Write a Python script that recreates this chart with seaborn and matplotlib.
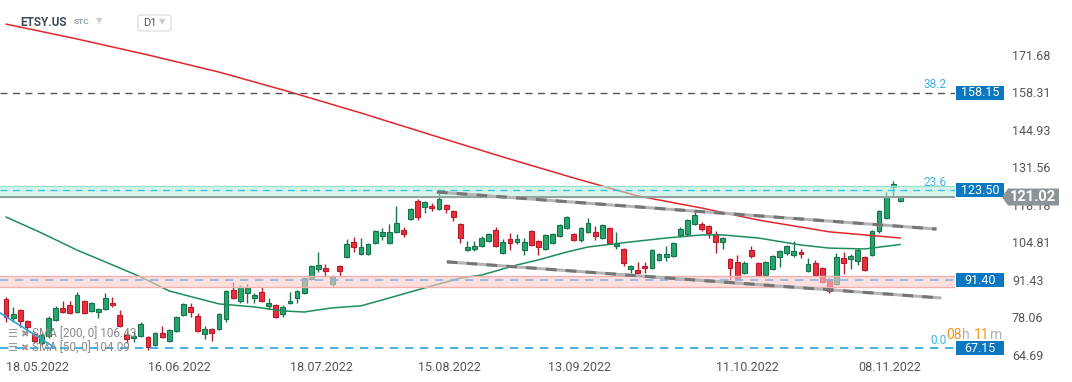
import matplotlib
matplotlib.use('Agg')
import matplotlib.pyplot as plt
from matplotlib.patches import Rectangle, Polygon, FancyBboxPatch
import matplotlib.transforms as mtransforms
import seaborn as sns
import numpy as np
import pandas as pd

sns.set_style('white')
plt.rcParams['font.family'] = ['Roboto', 'DejaVu Sans']

# --- daily candles ETSY.US ---
opens = [84.7, 77.9, 80.7, 76.8, 72.2, 69.0, 71.5, 77.2, 81.5, 82.5,
         80.0, 83.9, 80.4, 80.0, 81.1, 83.2, 79.0, 71.8, 70.8, 71.5,
         71.1, 68.3, 72.5, 69.7, 73.2, 79.0, 81.8, 78.6, 72.2, 74.0,
         74.0, 77.5, 87.9, 83.9, 86.8, 85.0, 87.2, 82.2, 82.5, 79.3,
         83.2, 85.0, 86.8, 91.8, 95.4, 95.7, 90.0, 96.4, 99.6, 105.0,
         100.7, 100.7, 104.6, 107.1, 104.6, 108.5, 109.3, 113.2, 119.6, 117.4,
         117.8, 116.8, 118.2, 116.0, 111.4, 102.1, 102.5, 103.6, 105.3, 109.3,
         101.1, 106.1, 105.0, 102.1, 108.9, 105.3, 102.5, 104.6, 107.1, 110.0,
         107.8, 105.7, 108.5, 108.5, 106.4, 110.0, 103.6, 102.5, 95.4, 95.0,
         96.4, 95.7, 98.6, 99.6, 100.0, 107.5, 107.8, 111.4, 111.4, 110.7,
         107.8, 105.0, 98.9, 97.9, 93.9, 102.1, 97.5, 93.2, 95.4, 99.6,
         101.1, 100.4, 101.4, 94.6, 97.5, 95.7, 91.8, 90.0, 99.3, 98.9,
         98.2, 99.6, 100.4, 108.9, 113.5, 124.6, 119.6]
highs = [85.4, 81.8, 81.1, 77.2, 72.9, 72.5, 78.6, 82.2, 83.9, 83.9,
         87.2, 84.3, 83.6, 81.5, 86.8, 85.4, 80.7, 73.2, 73.2, 76.5,
         71.5, 72.9, 75.0, 74.0, 78.6, 83.2, 83.2, 79.7, 75.0, 74.3,
         79.7, 87.9, 90.7, 89.6, 90.0, 86.8, 88.9, 85.0, 82.9, 82.5,
         87.2, 87.9, 92.5, 96.8, 101.4, 97.1, 93.2, 96.8, 106.1, 106.8,
         106.4, 104.6, 109.2, 110.0, 111.4, 117.7, 110.3, 117.1, 120.3, 119.6,
         118.9, 122.5, 118.5, 116.4, 111.8, 105.3, 105.3, 107.1, 108.2, 110.3,
         106.1, 108.2, 107.8, 106.4, 109.3, 105.7, 107.8, 108.2, 111.4, 114.3,
         108.2, 110.3, 113.5, 110.7, 111.4, 110.3, 108.5, 102.8, 96.8, 97.9,
         97.9, 102.5, 101.1, 103.6, 105.0, 110.3, 113.2, 115.7, 112.1, 111.1,
         108.9, 106.8, 99.3, 100.4, 98.2, 103.6, 97.9, 98.2, 100.4, 102.1,
         103.9, 105.3, 102.5, 99.3, 98.6, 96.1, 92.1, 101.1, 101.4, 100.7,
         102.8, 100.0, 109.2, 116.4, 122.8, 126.7, 121.4]
lows = [76.5, 76.5, 74.7, 72.5, 69.0, 68.3, 70.7, 76.8, 79.6, 79.3,
        79.6, 79.3, 80.0, 77.9, 80.7, 81.8, 74.7, 69.0, 69.3, 71.1,
        66.5, 67.9, 70.7, 69.3, 72.9, 78.6, 78.2, 72.9, 70.4, 69.7,
        73.6, 76.5, 84.7, 83.2, 83.2, 83.2, 83.6, 81.1, 77.9, 78.2,
        82.9, 83.2, 86.4, 91.4, 94.3, 92.9, 89.3, 92.9, 99.3, 101.4,
        100.4, 100.4, 104.3, 105.7, 104.3, 108.2, 106.8, 112.9, 112.8, 115.3,
        116.0, 116.4, 115.3, 112.5, 104.6, 101.8, 101.8, 103.2, 105.0, 103.2,
        100.7, 102.1, 104.3, 100.4, 103.6, 100.4, 102.1, 104.3, 106.8, 109.6,
        105.3, 105.0, 108.2, 105.7, 106.1, 104.3, 102.5, 96.4, 93.9, 93.6,
        93.9, 95.4, 98.2, 98.2, 99.6, 106.8, 107.1, 111.1, 108.9, 106.4,
        101.1, 102.5, 91.4, 91.4, 93.6, 99.3, 92.9, 92.9, 95.0, 96.1,
        100.4, 99.6, 99.3, 94.3, 92.9, 90.4, 86.8, 89.6, 93.6, 95.4,
        96.8, 94.6, 100.0, 108.2, 113.2, 121.0, 119.3]
closes = [78.2, 79.3, 76.8, 74.7, 69.7, 71.8, 77.9, 81.5, 80.0, 79.7,
          86.1, 79.7, 83.2, 81.1, 85.0, 82.5, 75.0, 70.4, 71.5, 75.7,
          67.5, 72.5, 71.1, 73.6, 78.2, 82.9, 80.0, 73.2, 74.0, 72.5,
          79.3, 87.5, 85.0, 88.9, 88.6, 86.1, 83.9, 83.2, 78.2, 81.8,
          83.9, 87.5, 92.1, 96.4, 96.8, 94.6, 92.5, 94.6, 104.3, 103.2,
          103.2, 104.3, 108.9, 108.5, 108.5, 111.8, 107.8, 116.8, 113.9, 119.3,
          117.1, 120.3, 116.8, 113.9, 106.4, 103.2, 103.6, 106.4, 107.8, 103.6,
          105.0, 104.6, 106.1, 105.0, 103.9, 103.2, 107.5, 107.8, 111.1, 113.9,
          105.7, 110.0, 111.8, 107.1, 111.1, 104.6, 104.3, 97.5, 96.4, 93.9,
          95.7, 102.1, 100.7, 100.7, 104.6, 109.6, 112.8, 114.6, 109.6, 108.2,
          105.0, 106.4, 95.7, 91.8, 97.5, 100.0, 93.2, 97.9, 100.0, 101.8,
          103.6, 101.8, 100.7, 97.1, 93.2, 90.7, 87.5, 99.6, 97.5, 100.0,
          102.1, 95.0, 108.9, 116.0, 121.0, 125.6, 121.02]

# moving averages, read at sample candles
sma200_idx = [0, 10, 20, 30, 40, 50, 60, 70, 80, 89, 98, 106, 116, 126]
sma200_val = [182.7, 177.4, 171.7, 165.6, 158.5, 151.0, 143.1, 135.3, 127.8,
              121.4, 117.1, 112.8, 108.6, 106.4]
sma50_idx = [0, 5, 10, 15, 19, 23, 30, 35, 39, 42, 46, 50, 53, 58, 61, 64, 67,
             72, 75, 79, 82, 88, 93, 98, 101, 106, 112, 116, 121, 126]
sma50_val = [113.9, 108.2, 102.1, 96.8, 92.5, 87.5, 82.9, 81.8, 80.4, 80.0,
             81.5, 82.2, 84.3, 87.9, 90.0, 92.1, 93.2, 96.8, 98.6, 101.4, 103.2,
             105.0, 106.4, 107.5, 107.5, 106.4, 103.9, 102.8, 102.5, 104.1]

# drawn objects
chan_upper = ([60.7, 131.1], [122.8, 109.6])
chan_lower = ([62.1, 131.8], [97.9, 85.0])
fib_diag = ([-0.85, 7.0], [79.7, 67.15])

fib_levels = [158.15, 123.50, 67.15]
fib_names = ['38.2', '23.6', '0.0']
zone_res = (121.2, 125.0)
zone_sup = (89.1, 92.7)
sup_level = 91.40
last_price = 121.02

price_ticks = [171.68, 158.31, 144.93, 131.56, 118.18, 104.81, 91.43, 78.06, 64.69]
date_labels = ['18.05.2022', '16.06.2022', '18.07.2022', '15.08.2022',
               '13.09.2022', '11.10.2022', '08.11.2022']
date_pos = [0, 20, 40, 58, 76.3, 100, 120]

# --- figure ---
W, H = 1072, 382
fig = plt.figure(figsize=(W / 100, H / 100), dpi=100)
ax = fig.add_axes([0, 1 - 358 / H, 955 / W, 358 / H])
ax.set_xlim(-0.85, 133.7)
ax.set_ylim(63.6, 191.3)
for s in ax.spines.values():
    s.set_visible(False)

df = pd.DataFrame({'o': opens, 'h': highs, 'l': lows, 'c': closes})
df['i'] = np.arange(len(df))
up = df['c'] >= df['o']
fc = np.where(up, '#27a56e', '#ec2d3d')
ec = np.where(up, '#17744a', '#b41e2b')
ax.vlines(df['i'], df['l'], df['h'], colors=ec, linewidth=1, zorder=2)
body = (df['c'] - df['o']).abs().clip(lower=0.4)
ax.bar(df['i'], body, bottom=df[['o', 'c']].min(axis=1), width=0.68,
       color=fc, edgecolor=ec, linewidth=0.8, zorder=2.1)

sns.lineplot(x=sma200_idx, y=sma200_val, color='#e3262c', linewidth=1.1, ax=ax, zorder=3)
sns.lineplot(x=sma50_idx, y=sma50_val, color='#1f8c5c', linewidth=1.1, ax=ax, zorder=3)

# zones
ax.axhspan(*zone_res, color='#b4eddc', alpha=0.55, lw=0, zorder=4)
ax.axhspan(*zone_sup, color='#fbcaca', alpha=0.6, lw=0, zorder=4)
for v in zone_res:
    ax.axhline(v, color='#9ee0cc', lw=1, zorder=4.1)
for v in zone_sup:
    ax.axhline(v, color='#f3aeae', lw=1, zorder=4.1)

ax.axhline(fib_levels[0], color='#555555', lw=1, dashes=(5, 4), zorder=5)
ax.axhline(fib_levels[1], color='#3cc0e8', lw=1, dashes=(5, 4), zorder=5)
ax.axhline(fib_levels[2], color='#29a3e0', lw=1.2, dashes=(5, 4), zorder=5)
ax.axhline(sup_level, color='#8ab4dc', lw=1.2, dashes=(5, 4), zorder=5)
ax.axhline(last_price, color='#8c9498', lw=1.2, zorder=5)
ax.plot(*fib_diag, color='#29a8e0', lw=1.2, zorder=5)

for xs, ys in (chan_upper, chan_lower):
    ax.plot(xs, ys, color='#b5b5b5', lw=2.2, zorder=6, solid_capstyle='butt')
    ax.plot(xs, ys, color='#6e6e6e', lw=2.2, dashes=(3.5, 3), alpha=0.9,
            solid_capstyle='butt', zorder=6.1)

# axes ticks
ax.yaxis.tick_right()
ax.set_yticks(price_ticks)
ax.set_yticklabels([f'{v:.2f}' for v in price_ticks])
ax.tick_params(axis='y', length=0, pad=41, labelsize=9, labelcolor='#555555')
ax.set_xticks(date_pos)
ax.set_xticklabels(date_labels, ha='left')
ax.tick_params(axis='x', length=0, pad=2, labelsize=9, labelcolor='#555555')

# level labels on price scale
bl = mtransforms.blended_transform_factory(ax.transAxes, ax.transData)
px = 1 / 955
py = (191.3 - 63.6) / 358
for v in [fib_levels[0], fib_levels[1], sup_level, fib_levels[2]]:
    ax.add_patch(Rectangle((1 + 1 * px, v - 7 * py), 48 * px, 14 * py, transform=bl,
                           fc='#0a78c1', ec='none', clip_on=False, zorder=10))
    ax.text(1 + 25 * px, v, f'{v:.2f}', transform=bl, color='white', fontsize=9,
            ha='center', va='center', clip_on=False, zorder=11)
for v, n in zip(fib_levels, fib_names):
    ax.text(947 * px, v + 8 * py, n, transform=bl, color='#3cb3e8', fontsize=8.5,
            ha='right', va='center', zorder=11)

arrow = [(1002, 0), (1008, -8.5), (1059, -8.5), (1059, 8.5), (1008, 8.5)]
ax.add_patch(Polygon([(x * px, last_price + dy * py) for x, dy in arrow], closed=True,
                     transform=bl, fc='#8c9498', ec='none', clip_on=False, zorder=12))
ax.text(1033 * px, last_price, f'{last_price:.2f}', transform=bl, color='white',
        fontsize=10.5, fontweight='bold', ha='center', va='center', clip_on=False, zorder=13)

# header / overlays
def ftext(x, y, s, **kw):
    fig.text(x / W, 1 - y / H, s, va='center', **kw)

ftext(20, 22, 'ETSY.US', fontsize=8.5, fontweight='bold', color='#3f4b56')
ftext(74, 22, 'STC', fontsize=6, fontweight='bold', color='#8fa0ad')
ftext(96, 21, '▼', fontsize=6, color='#c5ccd2')
fig.patches.append(FancyBboxPatch((138 / W, 1 - 31 / H), 33 / W, 16 / H,
                                  boxstyle='round,pad=0,rounding_size=0.004',
                                  transform=fig.transFigure, fc='white', ec='#dde2e6', lw=1))
ftext(143, 23, 'D1', fontsize=8, color='#555555')
ftext(159, 22, '▼', fontsize=6, color='#c5ccd2')

ftext(7, 334, '☰', fontsize=8, color='#9a9a9a')
ftext(20, 334, '✖', fontsize=7, color='#9a9a9a')
ftext(32, 334, 'SMA [200, 0] 106.43', fontsize=8.5, color='#8a8a8a')
ftext(7, 348, '☰', fontsize=8, color='#9a9a9a')
ftext(20, 348, '✖', fontsize=7, color='#9a9a9a')
ftext(32, 348, 'SMA [50, 0] 104.09', fontsize=8.5, color='#8a8a8a')

ftext(946, 335, '08', fontsize=10, color='#f7941d')
ftext(962, 335, 'h', fontsize=10, color='#b0b0b0')
ftext(974, 335, '11', fontsize=10, color='#f7941d')
ftext(990, 335, 'm', fontsize=10, color='#b0b0b0')

fig.savefig('out.png', dpi=100)
